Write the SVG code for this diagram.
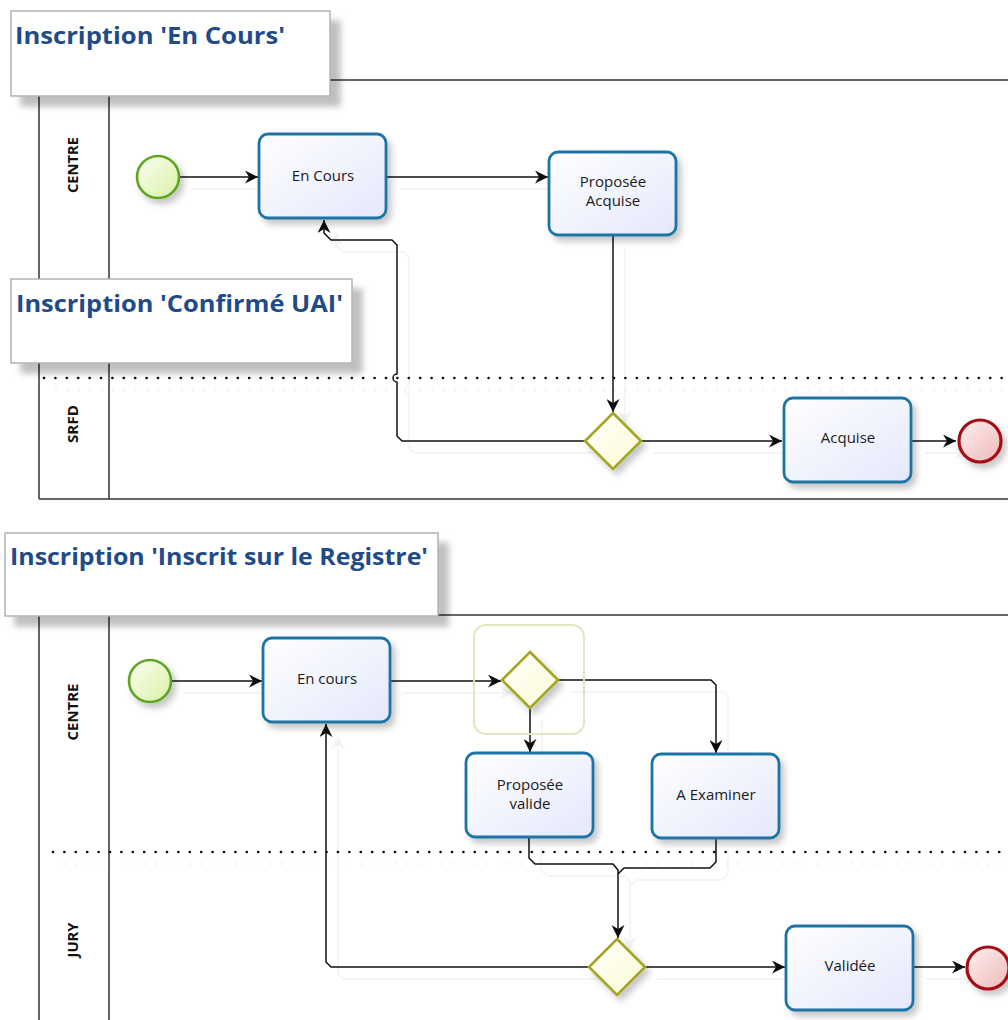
<svg xmlns="http://www.w3.org/2000/svg" width="1008" height="1020" viewBox="0 0 1008 1020">
<style>
.lane{stroke:#333;stroke-width:1.5;fill:none}
.dots{stroke:#111;stroke-width:2.7;stroke-linecap:round;stroke-dasharray:0 11.4;fill:none}
.conn{stroke:#111;stroke-width:1.5;fill:none;stroke-linejoin:round}
.arr{marker-end:url(#arrow)}
.task{fill:url(#gTask);stroke:#1e73a6;stroke-width:2.8;filter:url(#shNode)}
.tl{font-family:"Open Sans","Liberation Sans",sans-serif;font-size:15px;fill:#1a1a1a;text-anchor:middle}
.ll{font-family:"Open Sans","Liberation Sans",sans-serif;font-size:13.5px;font-weight:bold;fill:#111;text-anchor:middle}
.start{fill:url(#gStart);stroke:#5ea524;stroke-width:2.6;filter:url(#shNode)}
.end{fill:url(#gEnd);stroke:#a50f12;stroke-width:3.2;filter:url(#shNode)}
.gw{fill:url(#gGw);stroke:#a4a421;stroke-width:2.6;filter:url(#shNode)}
.tbox{fill:#fff;stroke:#a8a8a8;stroke-width:1.3;filter:url(#shBox)}
.ttl{font-family:"Open Sans","Liberation Sans",sans-serif;font-size:23px;font-weight:bold;fill:#1f4b87}
</style>
<defs>
<marker id="arrow" markerUnits="userSpaceOnUse" markerWidth="14" markerHeight="13" refX="13" refY="6.5" orient="auto">
<path d="M0,0 L13,6.5 L0,13 L4,6.5 Z" fill="#111"/>
</marker>
<linearGradient id="gTask" x1="0" y1="0" x2="1" y2="1"><stop offset="0" stop-color="#ffffff"/><stop offset="1" stop-color="#e4e8fb"/></linearGradient>
<linearGradient id="gStart" x1="0" y1="0" x2="1" y2="1"><stop offset="0" stop-color="#fbfff0"/><stop offset="1" stop-color="#d9f0a9"/></linearGradient>
<linearGradient id="gEnd" x1="0" y1="0" x2="1" y2="1"><stop offset="0" stop-color="#fdf0f0"/><stop offset="1" stop-color="#efb9b9"/></linearGradient>
<linearGradient id="gGw" x1="0" y1="0" x2="1" y2="1"><stop offset="0" stop-color="#ffffff"/><stop offset="1" stop-color="#fbfbd2"/></linearGradient>
<filter id="shNode" x="-20%" y="-20%" width="150%" height="150%"><feDropShadow dx="4" dy="5" stdDeviation="3" flood-color="#000" flood-opacity="0.22"/></filter>
<filter id="shBox" x="-10%" y="-20%" width="130%" height="160%"><feDropShadow dx="10" dy="10" stdDeviation="3" flood-color="#000" flood-opacity="0.25"/></filter>
<filter id="shConn" filterUnits="userSpaceOnUse" x="0" y="0" width="1008" height="1020"><feDropShadow dx="12" dy="12" stdDeviation="0.6" flood-color="#000" flood-opacity="0.05"/></filter>
</defs>
<rect width="1008" height="1020" fill="#fff"/>

<g id="pool1">
<line class="lane" x1="330" y1="80" x2="1008" y2="80"/>
<line class="lane" x1="39" y1="80" x2="39" y2="499"/>
<line class="lane" x1="109" y1="80" x2="109" y2="499"/>
<line class="lane" x1="39" y1="499" x2="1008" y2="499"/>
<line class="dots" x1="44" y1="378" x2="1008" y2="378" filter="url(#shConn)"/>
<text class="ll" transform="translate(78,165) rotate(-90)" textLength="56" lengthAdjust="spacingAndGlyphs">CENTRE</text>
<text class="ll" transform="translate(78,424) rotate(-90)" textLength="38" lengthAdjust="spacingAndGlyphs">SRFD</text>
</g>

<g id="pool2">
<line class="lane" x1="438" y1="615" x2="1008" y2="615"/>
<line class="lane" x1="39" y1="615" x2="39" y2="1020"/>
<line class="lane" x1="109" y1="615" x2="109" y2="1020"/>
<line class="dots" x1="53" y1="852" x2="1008" y2="852" filter="url(#shConn)"/>
<text class="ll" transform="translate(78,712) rotate(-90)" textLength="57" lengthAdjust="spacingAndGlyphs">CENTRE</text>
<text class="ll" transform="translate(78,940) rotate(-90)" textLength="35" lengthAdjust="spacingAndGlyphs">JURY</text>
</g>

<g id="connectors" filter="url(#shConn)">
<path class="conn arr" d="M180,177 H258"/>
<path class="conn arr" d="M387,177 H548"/>
<path class="conn arr" d="M613,236 V412"/>
<path class="conn arr" d="M641,441 H782"/>
<path class="conn arr" d="M912,441 H956"/>
<path class="conn arr" d="M585,441 H402 L397,436 V382 A4,4 0 0 1 397,374 V245 L392,240 H331 L324,233 V220"/>
<path class="conn arr" d="M172,681 H262"/>
<path class="conn arr" d="M391,681 H501"/>
<path class="conn arr" d="M530,708 V752"/>
<path class="conn arr" d="M558,680 H711 L716,685 V753"/>
<path class="conn arr" d="M529,838 V858 L535,864 H613 L618,870 V938"/>
<path class="conn" d="M716,839 V862 L710,868 H624 L618,874"/>
<path class="conn arr" d="M589,967 H331 L326,962 V724"/>
<path class="conn arr" d="M645,967 H785"/>
<path class="conn arr" d="M913,967 H965"/>
</g>

<g id="start1"><circle class="start" cx="158" cy="177" r="21"/></g>
<g id="task-en-cours-1"><rect class="task" x="259" y="134" width="127" height="84" rx="9"/><text class="tl" x="323" y="181">En Cours</text></g>
<g id="task-proposee-acquise"><rect class="task" x="549" y="152" width="127" height="83" rx="9"/><text class="tl" x="613" y="187">Proposée</text><text class="tl" x="613" y="206">Acquise</text></g>
<g id="gw1"><path class="gw" d="M613,413 L641,441 L613,469 L585,441 Z"/></g>
<g id="task-acquise"><rect class="task" x="784" y="398" width="127" height="84" rx="9"/><text class="tl" x="848" y="443">Acquise</text></g>
<g id="end1"><circle class="end" cx="980" cy="441" r="21"/></g>

<g id="start2"><circle class="start" cx="150" cy="681" r="21"/></g>
<g id="task-en-cours-2"><rect class="task" x="263" y="638" width="127" height="84" rx="9"/><text class="tl" x="327" y="684">En cours</text></g>
<g id="gw2"><rect x="474" y="625" width="110" height="109" rx="12" fill="none" stroke="#e4e4bf" stroke-width="2"/><path class="gw" d="M530,652 L558,680 L530,708 L502,680 Z"/></g>
<g id="task-proposee-valide"><rect class="task" x="466" y="753" width="127" height="84" rx="9"/><text class="tl" x="530" y="790">Proposée</text><text class="tl" x="530" y="809">valide</text></g>
<g id="task-a-examiner"><rect class="task" x="652" y="754" width="127" height="84" rx="9"/><text class="tl" x="716" y="800">A Examiner</text></g>
<g id="gw3"><path class="gw" d="M617,939 L645,967 L617,995 L589,967 Z"/></g>
<g id="task-validee"><rect class="task" x="786" y="926" width="127" height="84" rx="9"/><text class="tl" x="850" y="971">Validée</text></g>
<g id="end2"><circle class="end" cx="988" cy="968" r="21"/></g>

<g id="title1"><rect class="tbox" x="11" y="11" width="319" height="85"/><text class="ttl" x="15" y="44" textLength="270" lengthAdjust="spacingAndGlyphs">Inscription 'En Cours'</text></g>
<g id="title2"><rect class="tbox" x="11" y="279" width="341" height="84"/><text class="ttl" x="16" y="312" textLength="327" lengthAdjust="spacingAndGlyphs">Inscription 'Confirmé UAI'</text></g>
<g id="title3"><rect class="tbox" x="5" y="533" width="433" height="83"/><text class="ttl" x="10" y="565" textLength="418" lengthAdjust="spacingAndGlyphs">Inscription 'Inscrit sur le Registre'</text></g>
</svg>
